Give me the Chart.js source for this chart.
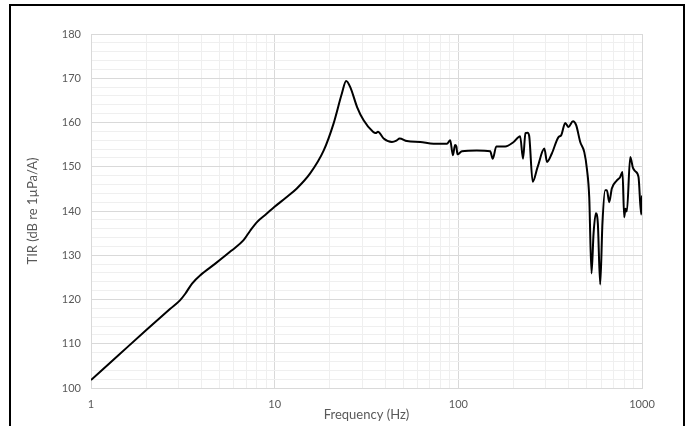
<!DOCTYPE html>
<html>
<head>
<meta charset="utf-8">
<script src="https://cdn.jsdelivr.net/npm/chart.js@4/dist/chart.umd.min.js"></script>
<style>
  html, body { margin: 0; padding: 0; background: #fff; }
  #wrap { position: relative; width: 692px; height: 426px; overflow: hidden; }
  #frame { position: absolute; left: 9px; top: 4px; width: 672px; height: 440px; border: 2px solid #000; }
  canvas { position: absolute; left: 0; top: 0; }
</style>
</head>
<body>
<div id="wrap">
  <div id="frame"></div>
  <canvas id="c" width="692" height="426"></canvas>
</div>
<script>
// values
const freq = [1, 1.41, 2.0, 2.7, 3.05, 3.26, 3.55, 3.94, 4.75, 5.8, 6.77, 7.37, 8.01, 9.0, 9.95,
  11.5, 13.2, 15.6, 18.5, 20.9, 23.2, 24.5, 25.8, 28.1, 30.5, 34.3, 35.5, 36.5, 39.2, 43.5, 46,
  47.9, 52.5, 62, 73.3, 86.7, 90.3, 93.4, 96, 97.5, 99, 104.7, 126, 149, 154, 161, 180, 200,
  217, 225, 232, 238, 243, 254, 270, 294, 304, 323, 351, 363, 382, 398, 421, 438, 461, 485,
  501, 516, 531, 545, 561, 575, 592, 609, 630, 644, 663, 685, 730, 761, 783, 800, 813, 827,
  863, 892, 918, 957, 990, 1000];
const tir = [101.8, 107.4, 113.1, 117.9, 119.8, 121.3, 123.6, 125.5, 128.1, 131.0, 133.4, 135.6, 137.5, 139.3, 140.9,
  143.0, 145.1, 148.5, 153.7, 159.7, 166.5, 169.4, 168.0, 163.5, 160.5, 157.9, 157.6, 157.9, 156.4, 155.6, 155.9,
  156.4, 155.8, 155.6, 155.2, 155.2, 156.0, 152.6, 154.9, 154.6, 152.8, 153.5, 153.7, 153.5, 151.8, 154.6, 154.6, 155.6,
  156.9, 151.8, 157.6, 157.7, 157.0, 146.6, 149.9, 154.1, 151.1, 153.0, 156.7, 157.1, 159.9, 159.0, 160.3, 159.4, 155.6, 153.3,
  149.6, 143.2, 125.9, 135.0, 139.5, 137.1, 123.4, 137.2, 144.7, 144.7, 142.0, 145.1, 146.9, 147.7, 148.8, 138.6, 140.5, 139.9,
  152.2, 149.8, 149.0, 147.7, 139.2, 143.5];

const xDecades = [1, 10, 100, 1000];
const yLabels = [100, 110, 120, 130, 140, 150, 160, 170, 180];

const MAJOR = '#d9d9d9';
const MINOR = '#efefef';
const FONT = 'Lato, "Open Sans", sans-serif';

// 1..9 per decade for the minor grid
const xTicks = [];
xDecades.forEach((d, i) => {
  if (i === xDecades.length - 1) { xTicks.push(d); return; }
  for (let k = 1; k < 10; k++) xTicks.push(d * k);
});
const isDecade = (v) => xDecades.includes(v);

new Chart(document.getElementById('c'), {
  type: 'scatter',
  data: {
    datasets: [{
      data: freq.map((f, i) => ({ x: f, y: tir[i] })),
      showLine: true,
      borderColor: '#000',
      borderWidth: 2,
      pointRadius: 0,
      cubicInterpolationMode: 'monotone',
    }],
  },
  options: {
    responsive: false,
    animation: false,
    layout: { padding: { left: 0, top: 34, right: 50, bottom: 0 } },
    plugins: { legend: { display: false }, tooltip: { enabled: false } },
    scales: {
      x: {
        type: 'logarithmic',
        min: 1,
        max: 1000,
        afterFit: (s) => { s.height = 38; },
        afterBuildTicks: (s) => { s.ticks = xTicks.map((v) => ({ value: v })); },
        grid: { color: (c) => (isDecade(c.tick.value) ? MAJOR : MINOR), drawTicks: false },
        border: { color: MAJOR },
        ticks: {
          autoSkip: false,
          maxRotation: 0,
          padding: 10,
          color: '#595959',
          font: { family: FONT, size: 11 },
          callback: (v) => (isDecade(v) ? String(v) : ''),
        },
        title: {
          display: true,
          text: 'Frequency (Hz)',
          color: '#595959',
          font: { family: FONT, size: 13 },
          padding: { top: 0, bottom: 3 },
        },
      },
      y: {
        min: 100,
        max: 180,
        afterFit: (s) => { s.width = 91; },
        grid: { color: (c) => (c.tick.value % 10 === 0 ? MAJOR : MINOR), drawTicks: false },
        border: { color: MAJOR },
        ticks: {
          stepSize: 2,
          autoSkip: false,
          padding: 10,
          color: '#595959',
          font: { family: FONT, size: 11 },
          callback: (v) => (yLabels.includes(v) ? String(v) : ''),
        },
        title: {
          display: true,
          text: 'TIR (dB re 1µPa/A)',
          color: '#595959',
          font: { family: FONT, size: 13 },
          padding: { top: 25, bottom: 0 },
        },
      },
    },
  },
});
</script>
</body>
</html>
